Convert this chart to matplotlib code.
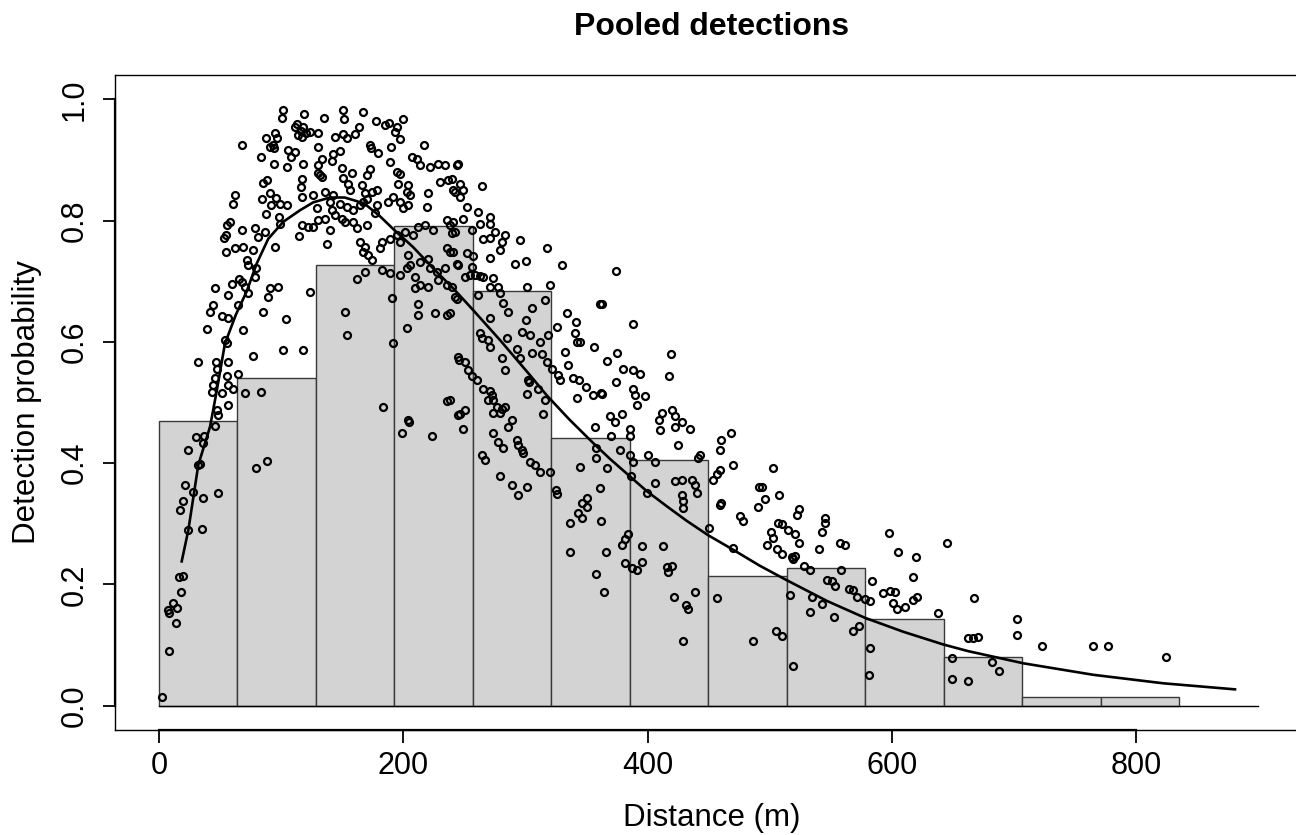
"""Pooled detections: histogram of detection rates by distance, with fitted curve."""
import matplotlib

matplotlib.use("Agg")
import matplotlib.pyplot as plt

plt.rcParams["font.family"] = ["Liberation Sans", "DejaVu Sans"]

INK = "black"
BAR = "#D3D3D3"
BAR_EDGE = "#3a3a3a"

# histogram of pooled detection probability
bin_edges = [0, 64.25, 128.5, 192.75, 257, 321.25, 385.5, 449.75, 514, 578.25, 642.5, 706.75, 771, 835.25]
bar_heights = [0.470, 0.540, 0.727, 0.791, 0.684, 0.441, 0.405, 0.214, 0.227, 0.143, 0.080, 0.015, 0.015]

# fitted detection curve
curve_x = [18.6, 24, 32.2, 41.8, 47.2, 54, 63, 71.8, 80, 89.5, 101.8, 115.5, 126.3, 140, 152, 162,
           170, 181, 191.8, 208.2, 224.6, 241, 257.4, 279.2, 303.8, 317.4, 336, 355.6, 369.3, 385.7,
           399.3, 415.7, 432, 449.8, 470.3, 491.8, 514, 546.7, 578, 609.4, 642.2, 662.6, 707.7,
           765, 822.3, 881]
curve_y = [0.238, 0.289, 0.397, 0.460, 0.518, 0.597, 0.645, 0.683, 0.729, 0.770, 0.798, 0.817,
           0.830, 0.838, 0.838, 0.832, 0.825, 0.807, 0.786, 0.756, 0.721, 0.688, 0.652, 0.603,
           0.545, 0.512, 0.472, 0.433, 0.407, 0.378, 0.354, 0.329, 0.305, 0.281, 0.257, 0.231,
           0.207, 0.173, 0.145, 0.122, 0.101, 0.090, 0.070, 0.051, 0.037, 0.027]

# individual detection-rate points (distance m, probability), grouped by distance band
pts_near = [
    (101.8, 0.982), (101, 0.969), (118.7, 0.975), (111, 0.955), (113, 0.960), (116, 0.948),
    (118, 0.955), (114, 0.941), (117, 0.938), (120, 0.944), (95, 0.945), (97, 0.936), (88, 0.936),
    (91, 0.922), (94, 0.919), (93, 0.925), (106, 0.917), (111, 0.913), (108, 0.904), (67.7, 0.925),
    (83.2, 0.904), (94, 0.894), (104.5, 0.888), (118, 0.894), (116.8, 0.869), (85, 0.862),
    (88.7, 0.867), (62.2, 0.842), (60.8, 0.828), (84, 0.835), (91, 0.845), (96, 0.837), (92, 0.825),
    (99, 0.828), (104.5, 0.825), (88, 0.811), (98, 0.806), (99, 0.795), (117, 0.839), (117, 0.792),
    (115, 0.775), (122, 0.79), (58, 0.798), (56, 0.792), (55, 0.776), (53, 0.771), (67.7, 0.784),
    (78.6, 0.787), (81.3, 0.773), (86.8, 0.781), (95, 0.757), (55, 0.748), (62, 0.754), (69, 0.757),
    (76.7, 0.751), (71.8, 0.735), (73, 0.727), (79.4, 0.721), (78.6, 0.707), (45.9, 0.689),
    (56.7, 0.677), (59.5, 0.695), (65.7, 0.703), (70.4, 0.691), (73.1, 0.680), (67.7, 0.699),
    (90.9, 0.689), (97.7, 0.691), (89.5, 0.674), (65, 0.661), (44.5, 0.661), (41.8, 0.65),
    (51.3, 0.643), (56.7, 0.639), (85.4, 0.649), (104, 0.638), (39.6, 0.621), (68.4, 0.619),
    (123.6, 0.683), (54, 0.603), (55.4, 0.598), (101.3, 0.586), (118, 0.586), (76.7, 0.577),
    (32.2, 0.567), (46.7, 0.567), (56.8, 0.566), (47.2, 0.555), (45.9, 0.540), (55.4, 0.543),
    (65, 0.547), (44.5, 0.529), (56.7, 0.529), (60.8, 0.522), (51.3, 0.515), (43.1, 0.517),
    (70.4, 0.516), (83.5, 0.518), (56.7, 0.496), (47.2, 0.488), (48.6, 0.479), (45.9, 0.461),
    (30.3, 0.443), (36.8, 0.444), (36.3, 0.433), (24, 0.421), (32.2, 0.397), (33.5, 0.399),
    (79.4, 0.392), (88.7, 0.403), (21.3, 0.364), (28.1, 0.353), (35.8, 0.343), (48.6, 0.351),
    (19.4, 0.337), (17.2, 0.323), (24, 0.289), (35, 0.291), (16.6, 0.213), (19.9, 0.214),
    (17.8, 0.188), (11.7, 0.170), (7.6, 0.158), (14.5, 0.161), (8.4, 0.153), (13.9, 0.136),
    (8.4, 0.091), (2.2, 0.015),
]

pts_peak = [
    (135, 0.969), (150.4, 0.982), (151.5, 0.968), (166.8, 0.979), (177.7, 0.964), (185, 0.958),
    (188.6, 0.961), (194.6, 0.954), (199.5, 0.968), (193.2, 0.946), (197.3, 0.935), (123.6, 0.946),
    (130.4, 0.944), (144, 0.938), (151, 0.942), (160.5, 0.942), (164, 0.954), (153.7, 0.936),
    (130.4, 0.921), (148.2, 0.914), (142.7, 0.910), (172.8, 0.924), (174, 0.919), (179.6, 0.912),
    (189.7, 0.921), (217.2, 0.925), (130.4, 0.891), (133.2, 0.902), (141.4, 0.899), (149.6, 0.887),
    (157.8, 0.879), (170, 0.875), (172.8, 0.885), (189.1, 0.897), (194.6, 0.880), (197.3, 0.876),
    (206.9, 0.905), (211, 0.902), (213.7, 0.891), (221.9, 0.888), (228.7, 0.894), (234.2, 0.891),
    (243.8, 0.892), (131.8, 0.875), (133.5, 0.872), (130, 0.878), (150.9, 0.870), (155, 0.861),
    (156.4, 0.850), (166, 0.859), (174.2, 0.847), (178.3, 0.850), (168.7, 0.845), (170, 0.836),
    (196, 0.861), (204, 0.859), (202.8, 0.847), (220.5, 0.845), (230, 0.863), (236.9, 0.867),
    (241, 0.850), (116, 0.855), (126.4, 0.842), (135.9, 0.847), (142.7, 0.842), (129, 0.820),
    (140, 0.831), (148.2, 0.828), (153.7, 0.823), (126.4, 0.790), (130.4, 0.801), (135.9, 0.803),
    (141.4, 0.817), (144.1, 0.809), (149.6, 0.803), (152.3, 0.798), (159.1, 0.817), (164.6, 0.826),
    (167.3, 0.831), (178.3, 0.826), (176.9, 0.812), (187.7, 0.831), (191.8, 0.839), (197.3, 0.831),
    (200, 0.820), (204, 0.826), (205.5, 0.842), (219.2, 0.823), (159.1, 0.798), (161.8, 0.787),
    (170, 0.792), (140, 0.784), (137.3, 0.762), (164.6, 0.765), (168.7, 0.757), (167.3, 0.748),
    (171.4, 0.743), (174.2, 0.735), (181, 0.754), (182.4, 0.765), (189.1, 0.770), (194.6, 0.776),
    (197.3, 0.765), (201.4, 0.781), (208.2, 0.776), (212.3, 0.790), (217.8, 0.792), (224.6, 0.784),
    (235.5, 0.801), (241, 0.798), (242.4, 0.781), (235.5, 0.754), (241, 0.748), (243.8, 0.729),
    (204, 0.743), (205.5, 0.727), (202.8, 0.721), (209.6, 0.707), (213.7, 0.732), (220.5, 0.737),
    (221.9, 0.721), (227.4, 0.716), (234.2, 0.721), (235.5, 0.694), (228.7, 0.702), (220.5, 0.691),
    (213.7, 0.694), (209.6, 0.688), (197.3, 0.710), (189.1, 0.713), (182.4, 0.718), (168.7, 0.716),
    (161.8, 0.704), (190.5, 0.672), (212.3, 0.663), (212.3, 0.644), (226, 0.647), (235.5, 0.644),
    (152.3, 0.649), (153.7, 0.612), (202.8, 0.623), (242.4, 0.674), (245.2, 0.727),
    (191.8, 0.598), (183.7, 0.493), (204, 0.471), (205, 0.468), (198.7, 0.449), (223.2, 0.445),
    (236.2, 0.502), (245.2, 0.575), (245.5, 0.570), (245.2, 0.479),
]

pts_mid = [
    (245.2, 0.893), (239.7, 0.868), (246.5, 0.861), (249.2, 0.850), (242.4, 0.847), (246.5, 0.839),
    (264.1, 0.857), (252, 0.823), (261.4, 0.814), (271, 0.806), (249.2, 0.803), (262.8, 0.795),
    (271, 0.795), (256, 0.784), (275.1, 0.781), (283.3, 0.776), (265.5, 0.770), (271, 0.772),
    (280.6, 0.765), (279.2, 0.751), (295.6, 0.768), (317.4, 0.754), (329.7, 0.727), (238.3, 0.792),
    (239.7, 0.779), (238.3, 0.748), (252, 0.746), (257.4, 0.741), (256, 0.724), (271, 0.738),
    (291.5, 0.728), (300.5, 0.734), (250.6, 0.707), (254.7, 0.710), (258.8, 0.710), (262.8, 0.708),
    (265.5, 0.707), (273.7, 0.705), (271, 0.691), (277.8, 0.691), (279.2, 0.680), (281.9, 0.664),
    (286, 0.650), (301.1, 0.691), (320.2, 0.694), (361.2, 0.663), (261.4, 0.677), (316, 0.669),
    (305.1, 0.655), (333.8, 0.647), (341.5, 0.633), (300.5, 0.636), (297, 0.617), (303.8, 0.611),
    (271, 0.639), (262.8, 0.614), (264.1, 0.606), (269.6, 0.603), (271, 0.592), (284.7, 0.607),
    (292.9, 0.589), (295.6, 0.573), (280.6, 0.573), (311.8, 0.600), (318.8, 0.611), (325.6, 0.625),
    (340.6, 0.614), (342, 0.600), (344.7, 0.600), (356.1, 0.591), (366.5, 0.569), (305.1, 0.582),
    (313.3, 0.580), (317.4, 0.567), (321.5, 0.556), (332.4, 0.583), (335.1, 0.562), (327, 0.545),
    (328.3, 0.537), (302.4, 0.537), (303, 0.533), (310.6, 0.523), (338.8, 0.540), (344.2, 0.537),
    (349.7, 0.525), (361.9, 0.515), (250.6, 0.567), (253.3, 0.554), (256, 0.543), (260.1, 0.537),
    (265.5, 0.523), (271, 0.519), (283.3, 0.554), (239.7, 0.691), (243.8, 0.670), (238.3, 0.647),
    (301.1, 0.514), (342, 0.507), (238.3, 0.504), (246.5, 0.481), (250.6, 0.488), (249.2, 0.456),
    (264.1, 0.413), (266.9, 0.405), (272.4, 0.512), (273.7, 0.504), (269.6, 0.504), (276.5, 0.493),
    (280.6, 0.490), (283.3, 0.493), (279.2, 0.482), (273.7, 0.482), (288.8, 0.471), (286, 0.460),
    (273.7, 0.449), (277.8, 0.435), (281.9, 0.425), (292.9, 0.438), (294.2, 0.430), (297, 0.422),
    (298.3, 0.416), (303.8, 0.402), (307.9, 0.397), (312, 0.386), (320.2, 0.386), (279.2, 0.378),
    (288.8, 0.364), (294.2, 0.348), (301.1, 0.361), (316, 0.504), (314.7, 0.481), (356.8, 0.460),
    (358.2, 0.425), (358.2, 0.408), (366.5, 0.392), (344.7, 0.394), (361.2, 0.359), (325.1, 0.356),
    (325.6, 0.349), (350.2, 0.342), (346.1, 0.334), (350.2, 0.328), (343.3, 0.317), (346.1, 0.309),
    (336.5, 0.301), (361.9, 0.304), (336.5, 0.254), (366, 0.254), (357.8, 0.217), (364.4, 0.188),
    (355.6, 0.512), (362.5, 0.514),
]

pts_tail = [
    (374.2, 0.717), (362.5, 0.662), (388.4, 0.629), (375.3, 0.582), (419, 0.580), (417.9, 0.543),
    (380.2, 0.556), (388.4, 0.554), (393.9, 0.547), (374.2, 0.534), (388.4, 0.523), (389.8, 0.512),
    (397.9, 0.510), (391.1, 0.496), (369.3, 0.478), (373.4, 0.468), (378.9, 0.481), (385.7, 0.457),
    (385.7, 0.444), (369.9, 0.445), (411.6, 0.482), (409.6, 0.471), (410.2, 0.455), (419.7, 0.488),
    (422.5, 0.477), (422.5, 0.460), (427.9, 0.468), (434.8, 0.457), (425.2, 0.430), (377.5, 0.422),
    (385.7, 0.414), (388.4, 0.402), (386.1, 0.378), (400.6, 0.414), (406.1, 0.402), (399.3, 0.351),
    (406.1, 0.368), (422.5, 0.370), (427.9, 0.372), (436.1, 0.373), (438.9, 0.364), (440.2, 0.351),
    (427.9, 0.348), (429.3, 0.338), (429.3, 0.326), (441.6, 0.408), (443, 0.414), (453.8, 0.372),
    (456.6, 0.382), (459.3, 0.389), (450.6, 0.293), (470.2, 0.397), (468.1, 0.450), (459.9, 0.438),
    (459.3, 0.422), (459.3, 0.331), (460.5, 0.334), (475.7, 0.313), (478.4, 0.305), (469.7, 0.260),
    (491.6, 0.361), (490.8, 0.328), (378.9, 0.265), (381.6, 0.275), (384.3, 0.284), (381.6, 0.235),
    (387, 0.227), (391.1, 0.223), (395.2, 0.237), (395.2, 0.264), (413, 0.264), (415.7, 0.229),
    (417.1, 0.220), (419.8, 0.231), (421.7, 0.179), (431.6, 0.166), (433.4, 0.159), (438.9, 0.188),
    (456.6, 0.177), (429.3, 0.106), (486.7, 0.106),
]

pts_far = [
    (503, 0.392), (493.5, 0.360), (507.9, 0.348), (496.2, 0.341), (524.3, 0.324), (522.7, 0.315),
    (507.1, 0.302), (509.8, 0.300), (515.3, 0.290), (520.8, 0.283), (500.9, 0.286), (502.5, 0.276),
    (498.1, 0.265), (505.8, 0.258), (509.8, 0.250), (524.3, 0.268), (518, 0.245), (520.8, 0.247),
    (519.4, 0.242), (545.3, 0.309), (545.3, 0.302), (542.6, 0.287), (540.7, 0.258), (558, 0.268),
    (561.3, 0.265), (597.9, 0.285), (605.3, 0.253), (619.8, 0.246), (645.5, 0.268), (527.9, 0.231),
    (532.8, 0.223), (558.8, 0.223), (546.6, 0.208), (550.7, 0.205), (553.5, 0.198), (565.2, 0.192),
    (568.5, 0.191), (571.3, 0.180), (578.1, 0.176), (582.2, 0.172), (583.6, 0.205), (593.1, 0.186),
    (598.5, 0.190), (602.6, 0.188), (600.7, 0.170), (604, 0.159), (610.8, 0.163), (617.6, 0.213),
    (617.1, 0.175), (620.4, 0.180), (638.1, 0.153), (516.7, 0.183), (534.4, 0.179), (542.6, 0.168),
    (532.8, 0.155), (552.8, 0.146), (573.4, 0.131), (568.5, 0.124), (505.3, 0.124), (509.8, 0.115),
    (582.2, 0.095), (581.6, 0.051), (518.8, 0.066), (648.9, 0.079), (648.9, 0.044), (662.5, 0.040),
    (662.5, 0.112), (667.3, 0.177), (702.3, 0.143), (702.3, 0.117), (666.2, 0.111), (670.8, 0.113),
    (723.3, 0.098), (765, 0.099), (777.3, 0.098), (824.5, 0.080), (681.8, 0.072), (688, 0.057),
]

X_TICKS = [0, 200, 400, 600, 800]
Y_TICKS = [0.0, 0.2, 0.4, 0.6, 0.8, 1.0]


def main():
    fig = plt.figure(figsize=(12.96, 8.35), dpi=100)
    # plot region runs past the right edge of the image, as in the original
    ax = fig.add_axes([115 / 1296, 1 - 730 / 835, 1194 / 1296, 655 / 835])
    ax.set_xlim(-36.0, 941.6)
    ax.set_ylim(-0.04, 1.04)

    widths = [b - a for a, b in zip(bin_edges[:-1], bin_edges[1:])]
    ax.bar(bin_edges[:-1], bar_heights, width=widths, align="edge",
           color=BAR, edgecolor=BAR_EDGE, linewidth=1.0, zorder=1)
    ax.plot([0, 900], [0, 0], color=INK, lw=1.0, zorder=2)

    pts = pts_near + pts_peak + pts_mid + pts_tail + pts_far
    dist = [p[0] for p in pts]
    prob = [p[1] for p in pts]
    ax.plot(dist, prob, ls="none", marker="o", ms=5.0, mfc="none", mec=INK, mew=1.6, zorder=3)
    ax.plot(curve_x, curve_y, color=INK, lw=1.9, zorder=4)

    for s in ax.spines.values():
        s.set_linewidth(1.0)
    # R-style axis lines between first and last tick
    ax.plot([X_TICKS[0], X_TICKS[-1]], [-0.04, -0.04], color=INK, lw=1.6, clip_on=False, zorder=5)
    ax.plot([-36.0, -36.0], [Y_TICKS[0], Y_TICKS[-1]], color=INK, lw=1.6, clip_on=False, zorder=5)

    ax.set_xticks(X_TICKS)
    ax.set_xticklabels([str(t) for t in X_TICKS])
    ax.set_yticks(Y_TICKS)
    ax.set_yticklabels([f"{t:.1f}" for t in Y_TICKS], rotation=90, va="center")
    ax.tick_params(axis="both", length=9, width=1.3, labelsize=22, color=INK)
    ax.tick_params(axis="x", pad=6)
    ax.tick_params(axis="y", pad=9)

    cx = (115 + 1309) / 2 / 1296
    fig.text(cx, 1 - 27 / 835, "Pooled detections", ha="center", va="center",
             fontsize=23, fontweight="bold")
    fig.text(cx, 1 - 818 / 835, "Distance (m)", ha="center", va="center", fontsize=22.5)
    fig.text(27 / 1296, 1 - 402 / 835, "Detection probability", ha="center", va="center",
             rotation=90, fontsize=22.5)

    fig.savefig("out.png", dpi=100, facecolor="white")
    plt.close(fig)


if __name__ == "__main__":
    main()
